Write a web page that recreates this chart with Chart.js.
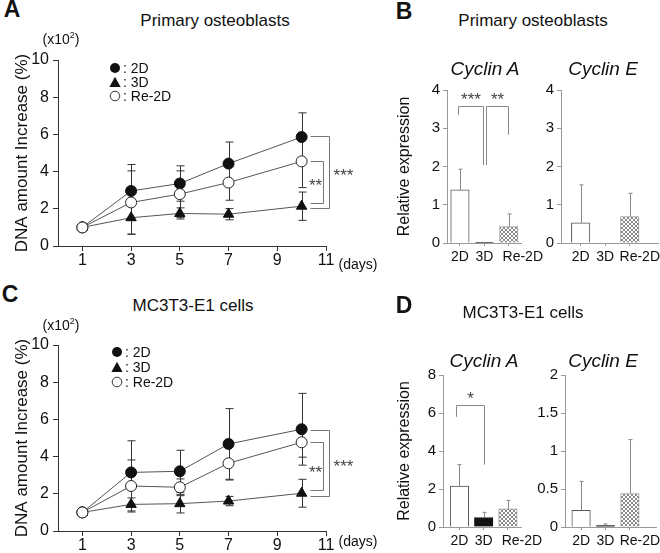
<!DOCTYPE html>
<html>
<head>
<meta charset="utf-8">
<script src="https://cdn.jsdelivr.net/npm/chart.js@4.4.1/dist/chart.umd.min.js"></script>
<style>
  body { margin: 0; background: #fff; }
  #fig { position: relative; width: 660px; height: 553px; overflow: hidden; font-family: 'Liberation Sans', Arial, sans-serif; color: #111; }
  #fig canvas { position: absolute; }
  .t { position: absolute; white-space: nowrap; line-height: 1; z-index: 2; }
  .c { transform: translate(-50%, -50%); }
  .letter { font-weight: bold; font-size: 23px; }
  .title { font-size: 17px; }
  .gene { font-size: 19px; font-style: italic; }
  .unit { font-size: 14px; }
  .unit sup { font-size: 9px; line-height: 0; }
  .days { font-size: 14px; }
  .lg { position: absolute; display: flex; align-items: center; height: 14px; font-size: 14px; z-index: 2; }
  .lg svg { margin-right: 2px; }
</style>
</head>
<body>
<div id="fig">
  <canvas id="chartA"></canvas>
  <canvas id="chartC"></canvas>
  <canvas id="chartBA"></canvas>
  <canvas id="chartBE"></canvas>
  <canvas id="chartDA"></canvas>
  <canvas id="chartDE"></canvas>

  <!-- panel A -->
  <div class="t c letter" style="left:12px;top:9px">A</div>
  <div class="t c title" style="left:215px;top:20px">Primary osteoblasts</div>
  <div class="t c unit" style="left:61px;top:39px">(x10<sup>2</sup>)</div>
  <div class="lg" style="left:109px;top:61px"><svg width="12" height="12"><circle cx="6" cy="6" r="5" fill="#111"/></svg>: 2D</div>
  <div class="lg" style="left:109px;top:75px"><svg width="12" height="12"><polygon points="6,0.8 11.6,11 0.4,11" fill="#111"/></svg>: 3D</div>
  <div class="lg" style="left:109px;top:89px"><svg width="12" height="12"><circle cx="6" cy="6" r="4.8" fill="#fff" stroke="#333"/></svg>: Re-2D</div>
  <div class="t c days" style="left:358px;top:264px">(days)</div>

  <!-- panel B -->
  <div class="t c letter" style="left:404px;top:11px">B</div>
  <div class="t c title" style="left:533px;top:20px">Primary osteoblasts</div>
  <div class="t c gene" style="left:485px;top:68px">Cyclin A</div>
  <div class="t c gene" style="left:603px;top:68px">Cyclin E</div>

  <!-- panel C -->
  <div class="t c letter" style="left:10px;top:294px">C</div>
  <div class="t c title" style="left:193px;top:305px">MC3T3-E1 cells</div>
  <div class="t c unit" style="left:61px;top:325px">(x10<sup>2</sup>)</div>
  <div class="lg" style="left:111px;top:345px"><svg width="12" height="12"><circle cx="6" cy="6" r="5" fill="#111"/></svg>: 2D</div>
  <div class="lg" style="left:111px;top:360px"><svg width="12" height="12"><polygon points="6,0.8 11.6,11 0.4,11" fill="#111"/></svg>: 3D</div>
  <div class="lg" style="left:111px;top:375px"><svg width="12" height="12"><circle cx="6" cy="6" r="4.8" fill="#fff" stroke="#333"/></svg>: Re-2D</div>
  <div class="t c days" style="left:358px;top:541px">(days)</div>

  <!-- panel D -->
  <div class="t c letter" style="left:404px;top:305px">D</div>
  <div class="t c title" style="left:523px;top:312px">MC3T3-E1 cells</div>
  <div class="t c gene" style="left:484px;top:360px">Cyclin A</div>
  <div class="t c gene" style="left:603px;top:360px">Cyclin E</div>
</div>

<script>
// culture days and axis ticks
const days = [1, 3, 5, 7, 10];
const dayTicks = [1, 3, 5, 7, 9, 11];

// A: primary osteoblasts, DNA amount increase (x10^2 %)
const a2D = [1, 2.96, 3.36, 4.43, 5.86];
const a2DErr = [0, 1.42, 0.95, 1.16, 1.3];
const a3D = [1, 1.52, 1.75, 1.71, 2.14];
const a3DErr = [0, 0.89, 0.3, 0.3, 0.76];
const aRe2D = [1, 2.34, 2.79, 3.41, 4.55];
const aRe2DErr = [0, 1.7, 1.25, 0.95, 1.41];

// C: MC3T3-E1 cells, DNA amount increase (x10^2 %)
const c2D = [1, 3.15, 3.21, 4.68, 5.47];
const c2DErr = [0, 1.7, 1.13, 1.9, 1.93];
const c3D = [1, 1.43, 1.47, 1.61, 2.03];
const c3DErr = [0, 0.35, 0.5, 0.25, 0.75];
const cRe2D = [1, 2.42, 2.35, 3.64, 4.77];
const cRe2DErr = [0, 1.4, 0.45, 0.9, 0.8];

// B / D: relative expression
const groups = ['2D', '3D', 'Re-2D'];
const bCycA = [1.39, 0.02, 0.43];
const bCycAErr = [0.54, 0, 0.33];
const bCycE = [0.53, 0, 0.69];
const bCycEErr = [0.99, 0, 0.61];
const dCycA = [2.15, 0.5, 0.95];
const dCycAErr = [1.13, 0.27, 0.45];
const dCycE = [0.22, 0.02, 0.44];
const dCycEErr = [0.38, 0.02, 0.71];

// significance brackets
const aSig = [
  { hi: 5.92, lo: 2.02, w: 19, label: '***', tx: 14, ty: 3.75 },
  { hi: 4.55, lo: 2.29, w: 13, label: '**', tx: -8, ty: 3.2 }
];
const cSig = [
  { hi: 5.43, lo: 1.88, w: 19, label: '***', tx: 14, ty: 3.45 },
  { hi: 4.77, lo: 2.2, w: 13, label: '**', tx: -8, ty: 3.1 }
];
const bSig = [
  { a: 0, b: 1, top: 3.59, ya: 3.35, yb: 2.04, da: -1.5, db: -1.5, label: '***' },
  { a: 1, b: 2, top: 3.59, ya: 2.04, yb: 2.83, da: 1.5, db: -1, label: '**' }
];
const dSig = [
  { a: 0, b: 1, top: 6.4, ya: 5.8, yb: 3.28, da: -3, db: 0, label: '*' }
];

Chart.defaults.font.family = "'Liberation Sans', Arial, sans-serif";
Chart.defaults.color = '#111';

// crosshatch fill for Re-2D bars
function makeHatch() {
  const c = document.createElement('canvas');
  c.width = 4; c.height = 4;
  const g = c.getContext('2d');
  g.fillStyle = '#fff';
  g.fillRect(0, 0, 4, 4);
  g.fillStyle = '#8a8a8a';
  [[0, 0], [1, 1], [2, 2], [3, 3], [3, 0], [2, 1], [1, 2], [0, 3]].forEach(p => g.fillRect(p[0], p[1], 1, 1));
  return g.createPattern(c, 'repeat');
}
const hatch = makeHatch();

function place(id, b) {
  const c = document.getElementById(id);
  c.width = b.w;
  c.height = b.h;
  c.style.left = b.l + 'px';
  c.style.top = b.t + 'px';
  return c;
}

// error bars (both ways for lines, upward for bars)
function errorBarPlugin(color, cap, upOnly, behind) {
  const draw = chart => {
    const ctx = chart.ctx;
    const y = chart.scales.y;
    chart.data.datasets.forEach((ds, i) => {
      if (!ds.errors) return;
      chart.getDatasetMeta(i).data.forEach((el, j) => {
        const e = ds.errors[j];
        if (!e) return;
        const v = ds.data[j].y;
        const px = Math.round(el.x) + 0.5;
        const top = y.getPixelForValue(v + e);
        const bot = upOnly ? y.getPixelForValue(v) : y.getPixelForValue(v - e);
        ctx.save();
        ctx.strokeStyle = color;
        ctx.lineWidth = 1;
        ctx.beginPath();
        ctx.moveTo(px, top); ctx.lineTo(px, bot);
        ctx.moveTo(px - cap, top); ctx.lineTo(px + cap, top);
        if (!upOnly) { ctx.moveTo(px - cap, bot); ctx.lineTo(px + cap, bot); }
        ctx.stroke();
        ctx.restore();
      });
    });
  };
  return behind ? { id: 'errorBars', beforeDatasetsDraw: draw } : { id: 'errorBars', afterDatasetsDraw: draw };
}

// brackets right of the last day
function lineSigPlugin(items, lastDay) {
  return {
    id: 'lineSig',
    afterDatasetsDraw(chart) {
      const { ctx, scales: { x, y } } = chart;
      const x0 = Math.round(x.getPixelForValue(lastDay)) + 8.5;
      ctx.save();
      ctx.strokeStyle = '#777';
      ctx.lineWidth = 1;
      ctx.fillStyle = '#444';
      ctx.font = "17px 'Liberation Sans', Arial";
      ctx.textAlign = 'center';
      ctx.textBaseline = 'middle';
      items.forEach(s => {
        const yh = Math.round(y.getPixelForValue(s.hi)) + 0.5;
        const yl = Math.round(y.getPixelForValue(s.lo)) + 0.5;
        const xr = x0 + s.w;
        ctx.beginPath();
        ctx.moveTo(x0, yh); ctx.lineTo(xr, yh); ctx.lineTo(xr, yl); ctx.lineTo(x0, yl);
        ctx.stroke();
        ctx.fillText(s.label, xr + s.tx, y.getPixelForValue(s.ty));
      });
      ctx.restore();
    }
  };
}

// brackets between bars
function barSigPlugin(items) {
  return {
    id: 'barSig',
    afterDatasetsDraw(chart) {
      const { ctx, scales: { x, y } } = chart;
      ctx.save();
      ctx.strokeStyle = '#888';
      ctx.lineWidth = 1;
      ctx.fillStyle = '#444';
      ctx.font = "17px 'Liberation Sans', Arial";
      ctx.textAlign = 'center';
      ctx.textBaseline = 'middle';
      items.forEach(s => {
        const xa = Math.round(x.getPixelForValue(s.a) + s.da) + 0.5;
        const xb = Math.round(x.getPixelForValue(s.b) + s.db) + 0.5;
        const yt = Math.round(y.getPixelForValue(s.top)) + 0.5;
        ctx.beginPath();
        ctx.moveTo(xa, y.getPixelForValue(s.ya)); ctx.lineTo(xa, yt);
        ctx.lineTo(xb, yt); ctx.lineTo(xb, y.getPixelForValue(s.yb));
        ctx.stroke();
        ctx.fillText(s.label, (xa + xb) / 2, yt - 6);
      });
      ctx.restore();
    }
  };
}

// group names under the bars
function groupLabelPlugin(shift) {
  return {
    id: 'groupLabels',
    afterDraw(chart) {
      const { ctx, scales: { x } } = chart;
      ctx.save();
      ctx.font = "14px 'Liberation Sans', Arial";
      ctx.fillStyle = '#111';
      ctx.textAlign = 'center';
      ctx.textBaseline = 'middle';
      groups.forEach((g, i) => ctx.fillText(g, x.getPixelForValue(i) + shift[i], x.top + 14));
      ctx.restore();
    }
  };
}

function pts(vals) {
  return vals.map((v, i) => ({ x: days[i], y: v }));
}

// DNA amount line chart
function lineChart(id, box, area, s, sig) {
  const c = place(id, box);
  const padL = 12;
  return new Chart(c, {
    type: 'line',
    data: {
      datasets: [
        { label: 'Re-2D', data: pts(s.re), errors: s.reErr, order: 0, pointStyle: 'circle', pointRadius: 5.5,
          pointBackgroundColor: '#fff', pointBorderColor: '#222', pointBorderWidth: 1, borderColor: '#555', borderWidth: 1 },
        { label: '3D', data: pts(s.d3), errors: s.d3Err, order: 1, pointStyle: 'triangle', pointRadius: 6,
          pointBackgroundColor: '#111', pointBorderColor: '#111', pointBorderWidth: 1, borderColor: '#555', borderWidth: 1 },
        { label: '2D', data: pts(s.d2), errors: s.d2Err, order: 2, pointStyle: 'circle', pointRadius: 5.5,
          pointBackgroundColor: '#111', pointBorderColor: '#111', pointBorderWidth: 1, borderColor: '#555', borderWidth: 1 }
      ]
    },
    options: {
      responsive: false,
      animation: false,
      layout: { padding: { left: padL, top: area.t - box.t, right: box.l + box.w - area.r, bottom: box.t + box.h - area.b - 22 } },
      plugins: { legend: { display: false }, tooltip: { enabled: false } },
      scales: {
        x: {
          type: 'linear', min: 0, max: 11,
          afterBuildTicks: sc => { sc.ticks = dayTicks.map(v => ({ value: v })); },
          afterFit: sc => { sc.height = 22; },
          ticks: { font: { size: 16 }, padding: 0, color: '#111' },
          grid: { drawOnChartArea: false, tickLength: 5, color: '#333' },
          border: { color: '#333' }
        },
        y: {
          min: 0, max: 10,
          ticks: { stepSize: 2, font: { size: 16 }, padding: 4, color: '#111' },
          afterFit: sc => { sc.width = area.l - box.l - padL; },
          grid: { drawOnChartArea: false, tickLength: 5, color: '#333' },
          border: { color: '#333' },
          title: { display: true, text: 'DNA amount Increase (%)', font: { size: 17 }, padding: 0, color: '#111' }
        }
      }
    },
    plugins: [errorBarPlugin('#333', 4, false, true), lineSigPlugin(sig, days[days.length - 1])]
  });
}

// relative expression bar chart
function barChart(id, box, area, vals, errs, o) {
  const c = place(id, box);
  return new Chart(c, {
    type: 'bar',
    data: {
      datasets: [{
        data: vals.map((v, i) => ({ x: i, y: v })),
        errors: errs,
        backgroundColor: ['#fff', '#111', hatch],
        borderColor: ['#555', '#111', '#999'],
        borderWidth: 1,
        barThickness: 18.5
      }]
    },
    options: {
      responsive: false,
      animation: false,
      layout: { padding: { left: o.padL, top: area.t - box.t, right: box.l + box.w - area.r, bottom: box.t + box.h - area.b - 22 } },
      plugins: { legend: { display: false }, tooltip: { enabled: false } },
      scales: {
        x: {
          type: 'linear', min: o.xMin, max: o.xMax, offset: false,
          afterBuildTicks: sc => { sc.ticks = groups.map((g, i) => ({ value: i })); },
          afterFit: sc => { sc.height = 22; },
          ticks: { display: false },
          grid: { offset: false, drawOnChartArea: false, tickLength: 3, color: '#999' },
          border: { color: '#999' }
        },
        y: {
          min: 0, max: o.yMax,
          ticks: { stepSize: o.step, font: { size: 15 }, padding: 3, color: '#111', callback: v => String(v) },
          afterFit: sc => { sc.width = area.l - box.l - o.padL; },
          grid: { drawOnChartArea: false, tickLength: 4, color: '#999' },
          border: { color: '#999' },
          title: { display: !!o.title, text: o.title || '', font: { size: 16 }, padding: 0, color: '#111' }
        }
      }
    },
    plugins: [errorBarPlugin('#888', 2, true, false), barSigPlugin(o.sig || []), groupLabelPlugin(o.shift)]
  });
}

lineChart('chartA', { l: 0, t: 30, w: 370, h: 250 }, { l: 58, r: 326, t: 60, b: 246 },
  { d2: a2D, d2Err: a2DErr, d3: a3D, d3Err: a3DErr, re: aRe2D, reErr: aRe2DErr }, aSig);
lineChart('chartC', { l: 0, t: 315, w: 370, h: 238 }, { l: 58, r: 326, t: 345, b: 531 },
  { d2: c2D, d2Err: c2DErr, d3: c3D, d3Err: c3DErr, re: cRe2D, reErr: cRe2DErr }, cSig);

barChart('chartBA', { l: 390, t: 78, w: 160, h: 192 }, { l: 447, r: 521, t: 90, b: 243 }, bCycA, bCycAErr,
  { padL: 4.5, xMin: -0.53, xMax: 2.5, yMax: 4, step: 1, title: 'Relative expression', sig: bSig, shift: [0, 0, 14] });
barChart('chartBE', { l: 532, t: 78, w: 128, h: 192 }, { l: 561, r: 658, t: 90, b: 243 }, bCycE, bCycEErr,
  { padL: 9, xMin: -0.8, xMax: 3.15, yMax: 4, step: 1, shift: [0, 0, 10] });
barChart('chartDA', { l: 390, t: 363, w: 160, h: 190 }, { l: 443, r: 521, t: 375, b: 527 }, dCycA, dCycAErr,
  { padL: 4.5, xMin: -0.68, xMax: 2.54, yMax: 8, step: 2, title: 'Relative expression', sig: dSig, shift: [0, 0, 14] });
barChart('chartDE', { l: 532, t: 363, w: 128, h: 190 }, { l: 565, r: 656, t: 375, b: 527 }, dCycE, dCycEErr,
  { padL: 3, xMin: -0.66, xMax: 3.07, yMax: 2, step: 0.5, shift: [0, 0, 10] });
</script>
</body>
</html>
